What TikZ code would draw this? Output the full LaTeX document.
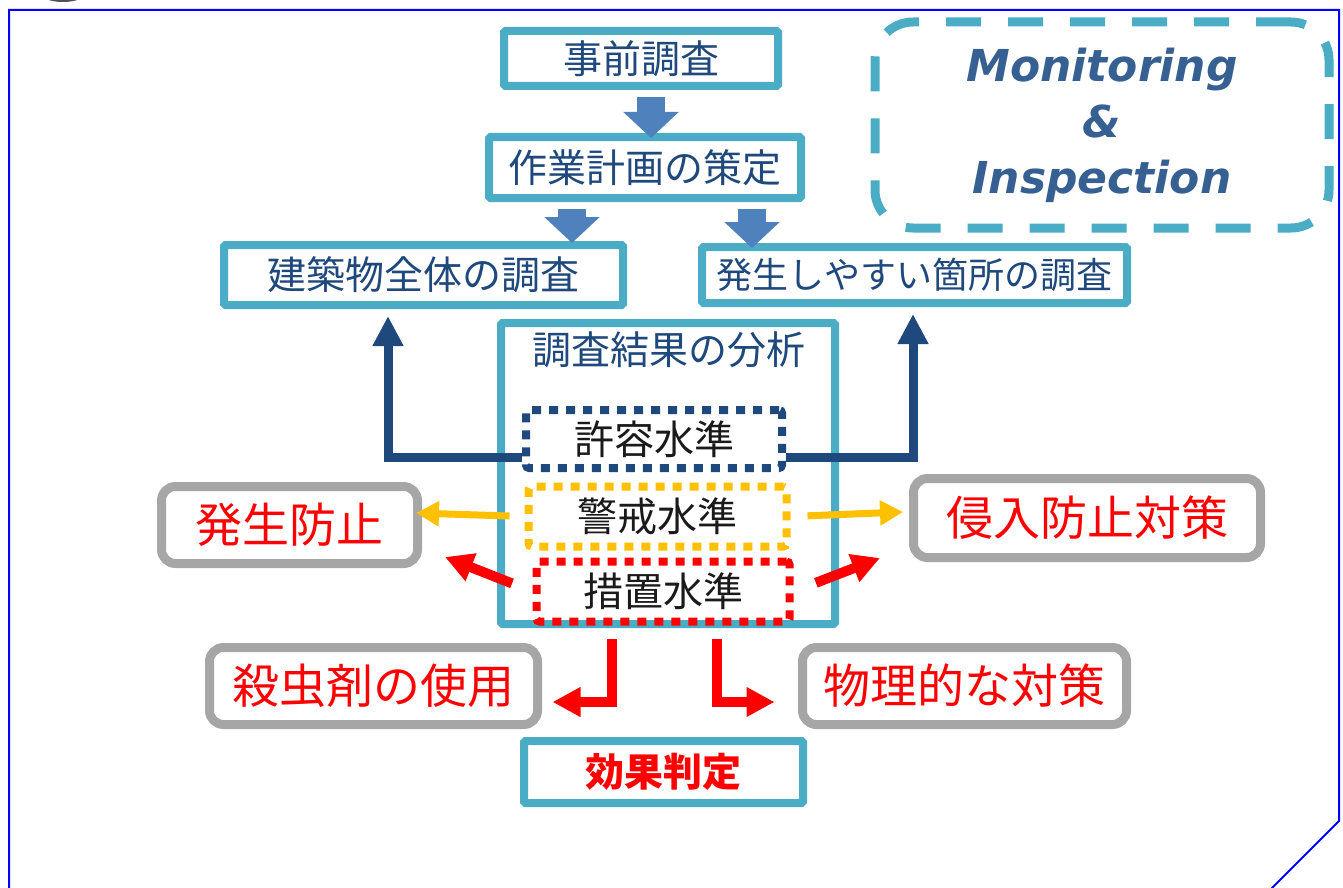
\documentclass[tikz,border=0pt]{standalone}
\usepackage{fontspec}
\setmainfont{Noto Sans CJK JP}
\newfontfamily\verd{DejaVu Sans}
\usetikzlibrary{arrows.meta}
\definecolor{teal1}{HTML}{4BACC6}
\definecolor{blk1}{HTML}{4F81BD}
\definecolor{db}{HTML}{1F497D}
\definecolor{tx}{HTML}{1F497D}
\definecolor{gold}{HTML}{FFC000}
\definecolor{gray1}{HTML}{A6A6A6}
\definecolor{lvtx}{HTML}{1A1A1A}
\definecolor{montx}{HTML}{376092}
\definecolor{frame}{HTML}{0000FF}
\definecolor{blob}{HTML}{505060}
\begin{document}
\begin{tikzpicture}[x=1pt,y=-1pt,
  tbox/.style={draw=teal1, line width=8pt, fill=white, inner sep=0pt, text=tx, font=\fontsize{39}{44}\selectfont, rounded corners=1.5pt},
  gbox/.style={draw=gray1, line width=9pt, fill=white, rounded corners=14pt, inner sep=0pt, text=red, font=\fontsize{47}{52}\selectfont},
  dbox/.style={line width=8pt, dash pattern=on 9pt off 8pt, rounded corners=3pt, inner sep=0pt, text=lvtx, font=\fontsize{40}{44}\selectfont},
  blk/.style={line width=28pt, draw=blk1, -{Triangle[width=54pt,length=26pt]}},
  dba/.style={draw=db, line width=9pt, line join=miter, -{Triangle[width=29pt,length=30pt]}},
  ya/.style={draw=gold, line width=7pt, -{Triangle[width=24pt,length=23pt]}},
  ra/.style={draw=red, line width=10pt, line join=miter, -{Triangle[width=28pt,length=28pt]}},
  mbox/.style={draw=teal1, line width=9pt, dash pattern=on 35pt off 27pt, rounded corners=38pt, inner sep=0pt, align=center, text=montx, font=\verd\bfseries\itshape\fontsize{44}{56}\selectfont}
]
\useasboundingbox (0,0) rectangle (1343,888);
% outer frame
\draw[frame, line width=2pt] (9,900) -- (9,10) -- (1339,10) -- (1339,821) -- (1260,900);
\fill[blob] (63,-8) ellipse (24pt and 10pt);

% top boxes
\node[tbox, minimum width=274pt, minimum height=55pt] (pre) at (641,58.5) {事前調査};
\node[tbox, minimum width=312pt, minimum height=61pt] (plan) at (645,167.5) {作業計画の策定};
\node[tbox, minimum width=399pt, minimum height=60pt] (whole) at (423.5,275) {建築物全体の調査};
\node[tbox, font=\fontsize{36}{40}\selectfont, minimum width=425pt, minimum height=56pt] (spots) at (914.5,275) {発生しやすい箇所の調査};

% block arrows
\coordinate (t1) at (651,138);
\coordinate (t2) at (572,243);
\coordinate (t3) at (752,248);
\draw[blk, shorten <=7pt] (pre.south -| t1) -- (t1);
\draw[blk, shorten <=7pt] (plan.south -| t2) -- (t2);
\draw[blk, shorten <=7pt] (plan.south -| t3) -- (t3);

% monitoring
\node[mbox, minimum width=454pt, minimum height=206pt] (mon) at (1102,125) {Monitoring\\\&\\Inspection};

% analysis box
\node[tbox, minimum width=334pt, minimum height=301pt] (ana) at (668,473.5) {};
\node[text=tx, font=\fontsize{39}{44}\selectfont, inner sep=0pt] (anatitle) at (669,350) {調査結果の分析};

% level boxes
\node[dbox, draw=db, minimum width=256pt, minimum height=58pt] (acc) at (654,439) {許容水準};
\node[dbox, draw=gold, minimum width=258pt, minimum height=60pt] (warn) at (657.5,516.5) {警戒水準};
\node[dbox, draw=red, minimum width=253pt, minimum height=60pt] (act) at (663,591.5) {措置水準};

% gray boxes
\node[gbox, minimum width=256pt, minimum height=77pt] (prev) at (289.5,525) {発生防止};
\node[gbox, minimum width=347pt, minimum height=79pt] (intr) at (1087,518) {侵入防止対策};
\node[gbox, minimum width=328pt, minimum height=77pt] (insect) at (373.5,686) {殺虫剤の使用};
\node[gbox, minimum width=324pt, minimum height=77pt] (phys) at (964.5,686) {物理的な対策};

% effect
\node[tbox, text=red, font=\bfseries\fontsize{39}{44}\selectfont, minimum width=279pt, minimum height=62pt] (eff) at (663.5,772) {効果判定};

% dark blue arrows
\coordinate (lb) at (388,457);
\coordinate (rb) at (913,457);
\draw[dba, shorten >=7pt] (acc.west |- lb) -- (lb) -- (lb |- whole.south);
\draw[dba, shorten >=7pt] (acc.east |- rb) -- (rb) -- (rb |- spots.south);

% yellow arrows
\coordinate (yl) at (416,513);
\coordinate (yr) at (903,512);
\draw[ya, shorten <=15pt] (warn.west) -- (yl);
\draw[ya, shorten <=17pt] (warn.east) -- (yr);

% red diagonal arrows
\coordinate (rl) at (445,557);
\coordinate (rr) at (880,558);
\draw[ra, shorten <=22pt] (act.west) -- (rl);
\draw[ra, shorten <=24pt] (act.east) -- (rr);

% red elbow arrows
\coordinate (el) at (612,702);
\coordinate (er) at (717,702);
\draw[ra, shorten <=13.5pt, shorten >=10.5pt] (act.south -| el) -- (el) -- (insect.east |- el);
\draw[ra, shorten <=13.5pt, shorten >=23.5pt] (act.south -| er) -- (er) -- (phys.west |- er);
\end{tikzpicture}
\end{document}
